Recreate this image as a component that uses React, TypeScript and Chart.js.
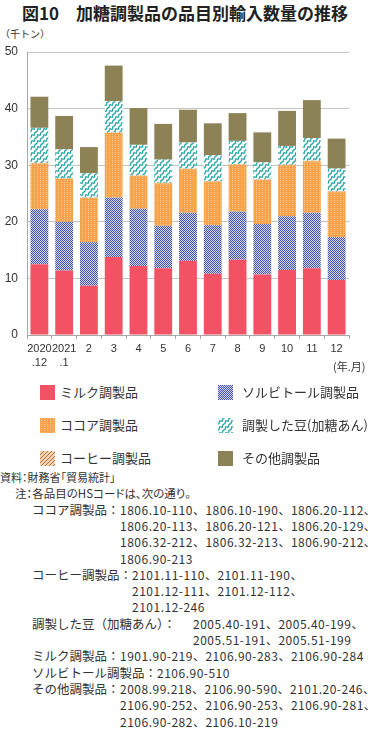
import React, { useEffect, useRef } from "react";
import { Chart, registerables } from "chart.js";
Chart.register(...registerables);

const categories: (string | string[])[] = [["2020", ".12"], ["2021", ".1"], "2", "3", "4", "5", "6", "7", "8", "9", "10", "11", "12"];
const milk = [12.5, 11.4, 8.7, 13.8, 12.2, 11.8, 13.1, 10.8, 13.3, 10.7, 11.5, 11.8, 9.7];
const sorbitol = [9.7, 8.6, 7.7, 10.5, 10.1, 7.5, 8.5, 8.6, 8.5, 8.9, 9.5, 9.8, 7.6];
const cocoa = [8.1, 7.6, 7.8, 11.4, 5.8, 7.5, 7.7, 7.7, 8.3, 7.8, 9.0, 9.1, 8.0];
const coffee = [0.1, 0.1, 0.1, 0.1, 0.1, 0.1, 0.1, 0.1, 0.1, 0.1, 0.1, 0.1, 0.1];
const beans = [6.2, 5.1, 4.3, 5.5, 5.4, 4.1, 4.6, 4.6, 4.1, 3.0, 3.3, 4.0, 4.0];
const other = [5.5, 5.9, 4.6, 6.3, 6.5, 6.3, 5.8, 5.6, 4.9, 5.3, 6.2, 6.7, 5.3];
const yMax = 50;
const yStep = 10;

const seriesNames = ["ミルク調製品", "ソルビトール調製品", "ココア調製品", "コーヒー調製品", "調製した豆(加糖あん)", "その他調製品"];
const seriesKinds = ["milk", "sorbitol", "cocoa", "coffee", "beans", "other"];
const seriesData = [milk, sorbitol, cocoa, coffee, beans, other];

const FONT = "'Noto Sans CJK JP', 'Noto Sans', sans-serif";
const NUMFONT = "'Liberation Sans', Arial, sans-serif";

function makeTile(kind: string): HTMLCanvasElement {
  const c = document.createElement("canvas");
  const ctx = c.getContext("2d")!;
  if (kind === "milk") {
    c.width = 2; c.height = 2;
    ctx.fillStyle = "#F25264"; ctx.fillRect(0, 0, 2, 2);
  } else if (kind === "other") {
    c.width = 2; c.height = 2;
    ctx.fillStyle = "#8C8256"; ctx.fillRect(0, 0, 2, 2);
  } else if (kind === "sorbitol") {
    c.width = 2; c.height = 2;
    ctx.fillStyle = "#D6D9F4"; ctx.fillRect(0, 0, 2, 2);
    ctx.fillStyle = "#4151AB"; ctx.fillRect(0, 0, 1, 1); ctx.fillRect(1, 1, 1, 1);
  } else if (kind === "cocoa") {
    c.width = 3; c.height = 2;
    ctx.fillStyle = "#F7A24A"; ctx.fillRect(0, 0, 3, 2);
    ctx.fillStyle = "#FCCB8E"; ctx.fillRect(1, 0, 1, 1);
  } else if (kind === "coffee") {
    c.width = 4; c.height = 4;
    ctx.fillStyle = "#F3D2B2"; ctx.fillRect(0, 0, 4, 4);
    ctx.fillStyle = "#B8703A";
    for (let i = 0; i < 4; i++) ctx.fillRect(i, 3 - i, 1, 1);
  } else if (kind === "beans") {
    c.width = 6; c.height = 6;
    ctx.fillStyle = "#FFFFFF"; ctx.fillRect(0, 0, 6, 6);
    ctx.strokeStyle = "#2AA7A7"; ctx.lineWidth = 1.3;
    for (let k = -1; k <= 1; k++) {
      const o = k * 6;
      ctx.beginPath();
      ctx.moveTo(0, 6 + o);
      ctx.bezierCurveTo(2.5, 5.5 + o, 0.5, 1.5 + o, 3, 3 + o);
      ctx.bezierCurveTo(5.5, 4.5 + o, 3.5, 0.5 + o, 6, 0 + o);
      ctx.stroke();
    }
  }
  return c;
}

function Swatch({ kind }: { kind: string }) {
  const ref = useRef<HTMLCanvasElement>(null);
  useEffect(() => {
    const cv = ref.current!;
    const ctx = cv.getContext("2d")!;
    const p = ctx.createPattern(makeTile(kind), "repeat")!;
    ctx.fillStyle = p;
    ctx.fillRect(0, 0, 15, 15);
  }, [kind]);
  return <canvas ref={ref} width={15} height={15} style={{ position: "absolute", left: 0, top: 0 }} />;
}

// [x, text, isCode]
const footer: [number, string, boolean][][] = [
  [[0, "資料：財務省「貿易統計」", false]],
  [[15, "注：各品目のHSコードは、次の通り。", false]],
  [[32, "ココア調製品：", false], [120, "1806.10-110、1806.10-190、1806.20-112、", true]],
  [[120, "1806.20-113、1806.20-121、1806.20-129、", true]],
  [[120, "1806.32-212、1806.32-213、1806.90-212、", true]],
  [[120, "1806.90-213", true]],
  [[32, "コーヒー調製品：", false], [132, "2101.11-110、2101.11-190、", true]],
  [[132, "2101.12-111、2101.12-112、", true]],
  [[132, "2101.12-246", true]],
  [[32, "調製した豆（加糖あん）：", false], [193, "2005.40-191、2005.40-199、", true]],
  [[193, "2005.51-191、2005.51-199", true]],
  [[32, "ミルク調製品：", false], [120, "1901.90-219、2106.90-283、2106.90-284", true]],
  [[32, "ソルビトール調製品：", false], [157, "2106.90-510", true]],
  [[32, "その他調製品：", false], [120, "2008.99.218、2106.90-590、2101.20-246、", true]],
  [[120, "2106.90-252、2106.90-253、2106.90-281、", true]],
  [[120, "2106.90-282、2106.10-219", true]],
];

export default function App() {
  const canvasRef = useRef<HTMLCanvasElement>(null);
  useEffect(() => {
    const cv = canvasRef.current!;
    const ctx = cv.getContext("2d")!;
    const datasets = seriesData.map((d, i) => ({
      label: seriesNames[i],
      data: d,
      backgroundColor: ctx.createPattern(makeTile(seriesKinds[i]), "repeat")!,
      borderWidth: 0,
      barPercentage: 0.72,
      categoryPercentage: 1,
    }));
    const chart = new Chart(cv, {
      type: "bar",
      data: { labels: categories, datasets },
      options: {
        animation: false,
        responsive: false,
        maintainAspectRatio: false,
        layout: { padding: { left: 0, right: 21, top: 52, bottom: 0 } },
        plugins: { legend: { display: false }, tooltip: { enabled: false } },
        scales: {
          x: {
            stacked: true,
            grid: { drawOnChartArea: false, drawTicks: true, tickLength: 4, offset: true, color: "#A8A8A8" },
            border: { color: "#A8A8A8" },
            ticks: { color: "#333", font: { family: NUMFONT, size: 11, lineHeight: 1.3 }, padding: 3, maxRotation: 0, autoSkip: false },
            afterFit: (s: any) => { s.height = 45; },
          },
          y: {
            stacked: true,
            min: 0,
            max: yMax,
            ticks: { stepSize: yStep, color: "#333", font: { family: NUMFONT, size: 12 }, padding: 9 },
            grid: { color: "#C4C4C4", drawTicks: false },
            border: { color: "#A8A8A8" },
            afterFit: (s: any) => { s.width = 27; },
          },
        },
      },
    });
    return () => chart.destroy();
  }, []);

  const legendRows = [
    [0, 1],
    [2, 4],
    [3, 5],
  ];
  const legendY = [393, 426, 459];

  return (
    <div style={{ position: "absolute", left: 0, top: 0, width: 370, height: 730, background: "#fff", fontFamily: FONT, color: "#333", overflow: "hidden" }}>
      <div style={{ position: "absolute", left: 22, top: 2, fontSize: 17, fontWeight: 700, color: "#222", whiteSpace: "nowrap", lineHeight: "22px" }}>
        図10　加糖調製品の品目別輸入数量の推移
      </div>
      <div style={{ position: "absolute", left: 0, top: 27, fontSize: 10, whiteSpace: "nowrap", lineHeight: "14px" }}>（千トン）</div>
      <canvas ref={canvasRef} width={370} height={380} style={{ position: "absolute", left: 0, top: 0 }} />
      <div style={{ position: "absolute", left: 333, top: 358, fontSize: 11, whiteSpace: "nowrap", lineHeight: "16px" }}>(年.月)</div>
      {legendRows.map((row, r) =>
        row.map((si, c) => (
          <div key={si} style={{ position: "absolute", left: c === 0 ? 40 : 218, top: legendY[r] - 8, height: 16, width: 150 }}>
            <Swatch kind={seriesKinds[si]} />
            <div style={{ position: "absolute", left: c === 0 ? 20 : 24, top: -2, fontSize: 13, lineHeight: "18px", whiteSpace: "nowrap" }}>
              {seriesNames[si]}
            </div>
          </div>
        ))
      )}
      {footer.map((line, i) =>
        line.map(([x, t, code], j) => (
          <div
            key={i + "-" + j}
            style={{
              position: "absolute",
              left: x,
              top: 477 + i * 16.3 - 8,
              fontSize: i === 0 ? 11 : i === 1 ? 11.5 : code ? 12 : 12.5,
              letterSpacing: code ? 0.5 : 0,
              fontFeatureSettings: i < 2 ? "'palt'" : "normal",
              lineHeight: "16px",
              whiteSpace: "nowrap",
            }}
          >
            {t}
          </div>
        ))
      )}
    </div>
  );
}
